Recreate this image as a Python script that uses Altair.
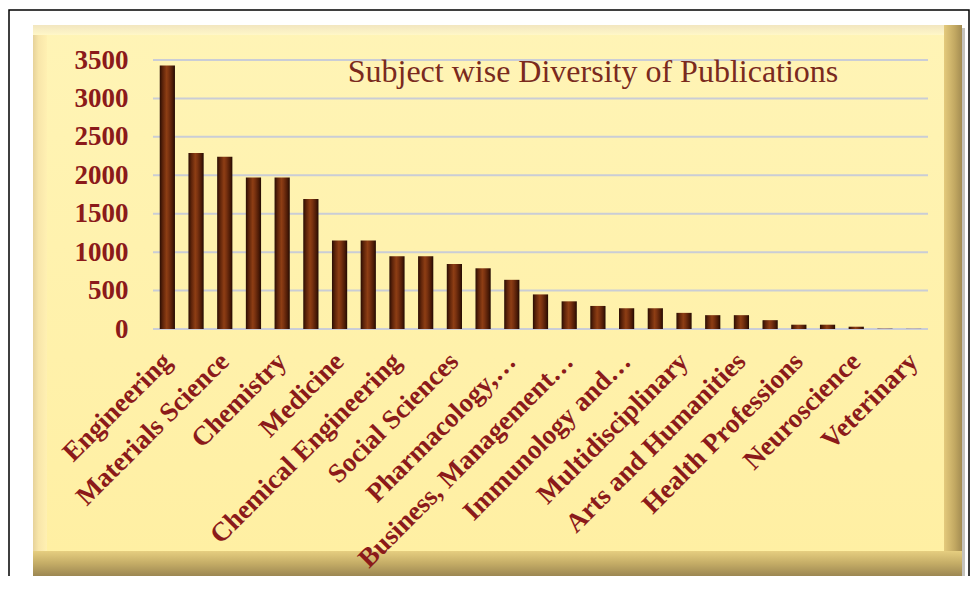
import altair as alt
import pandas as pd

# ---------------- data ----------------
subjects = [
    "Engineering", "Physics and Astronomy", "Materials Science", "Computer Science",
    "Chemistry", "Mathematics", "Medicine", "Biochemistry, Genetics…",
    "Chemical Engineering", "Environmental Science", "Social Sciences", "Energy",
    "Pharmacology,…", "Agricultural and…", "Business, Management…",
    "Earth and Planetary Sciences", "Immunology and…", "Decision Sciences",
    "Multidisciplinary", "Economics,…", "Arts and Humanities", "Nursing",
    "Health Professions", "Psychology", "Neuroscience", "Dentistry", "Veterinary",
]
publications = [
    3430, 2290, 2240, 1970, 1970, 1690, 1150, 1150, 945, 945, 845, 790, 640,
    450, 360, 300, 270, 270, 210, 180, 180, 115, 56, 56, 30, 4, 2,
]
shown_labels = subjects[0::2]
y_ticks = [0, 500, 1000, 1500, 2000, 2500, 3000, 3500]
title_text = "Subject wise Diversity of Publications"

df = pd.DataFrame({"subject": subjects, "publications": publications})
grid_df = pd.DataFrame({"publications": y_ticks})
one = pd.DataFrame({"k": [0]})

W, H = 775, 269
LABEL_COLOR = "#8B1A1A"
SERIF = "Liberation Serif"


def grad(stops, horizontal=True):
    return alt.LinearGradient(
        gradient="linear",
        stops=[alt.GradientStop(offset=o, color=c) for o, c in stops],
        x1=0, y1=0, x2=1 if horizontal else 0, y2=0 if horizontal else 1,
    )


def deco(x, x2, y, y2, **kw):
    return alt.Chart(one).mark_rect(**kw).encode(
        x=alt.value(x), x2=alt.value(x2), y=alt.value(y), y2=alt.value(y2)
    )


# frame + bevelled panel (decoration)
border = deco(-144, 816, -50, 540, fill="white", stroke="black", strokeWidth=1.5)
shadow = deco(-117, 812, -32, 519, fill="#C4C2BC")
face = deco(-120, 809, -35, 516,
            fill=grad([(0, "#FFF4B6"), (1, "#FFEFA2")], horizontal=False))
bevel_left = deco(-120, -106, -35, 516,
                  fill=grad([(0, "#E6D29A"), (0.4, "#F8E6AA"), (1, "#FFF0B2")]))
bevel_top = deco(-120, 809, -35, -25,
                 fill=grad([(0, "#F2E6C0"), (1, "#FFF7C8")], horizontal=False))
bevel_right = deco(791, 809, -35, 516,
                   fill=grad([(0, "#E4CA7C"), (0.6, "#C2A862"), (1, "#A38C52")]))
bevel_bottom = deco(-120, 809, 491, 516,
                    fill=grad([(0, "#E6CE80"), (0.5, "#C4AC66"), (1, "#9C8752")],
                              horizontal=False))

y_scale = alt.Scale(domain=[0, 3500], nice=False, zero=True)
y_axis = alt.Axis(
    values=y_ticks, title=None, grid=False, ticks=False, domain=False, format="d",
    labelFont=SERIF, labelFontWeight="bold", labelFontSize=27,
    labelColor=LABEL_COLOR, labelPadding=25, zindex=1,
)

grid = alt.Chart(grid_df).mark_rule(color="#CACDD6", strokeWidth=2).encode(
    y=alt.Y("publications:Q", scale=y_scale, axis=y_axis)
)

bar_fill = grad([
    (0, "#2A0D03"), (0.2, "#5E240A"), (0.45, "#8E3E14"),
    (0.6, "#7A3210"), (0.85, "#4A1A06"), (1, "#220A02"),
])

bars = alt.Chart(df).mark_bar(fill=bar_fill).encode(
    x=alt.X(
        "subject:N", sort=None,
        scale=alt.Scale(paddingInner=0.47, paddingOuter=0.235),
        axis=alt.Axis(
            values=shown_labels, title=None, labelAngle=-45, labelAlign="right",
            labelBaseline="middle", labelFont=SERIF, labelFontWeight="bold",
            labelFontSize=27, labelColor=LABEL_COLOR, ticks=False, domain=False,
            labelPadding=28, labelLimit=500, labelOverlap=False, grid=False, zindex=1,
        ),
    ),
    y=alt.Y("publications:Q", scale=y_scale, axis=y_axis),
)

title = alt.Chart(one).mark_text(
    text=title_text, font=SERIF, fontSize=32, color="#7A2A1E",
    align="center", baseline="middle",
).encode(x=alt.value(440), y=alt.value(12))

chart = alt.layer(
    border, shadow, face, bevel_left, bevel_top, bevel_right, bevel_bottom,
    grid, bars, title,
).properties(
    width=W, height=H,
    autosize=alt.AutoSizeParams(type="none"),
    padding={"left": 145, "top": 52, "right": 42, "bottom": 247},
    background="white",
).configure_view(stroke=None)

chart.save("out.html", embed_options={"renderer": "svg", "actions": False})
